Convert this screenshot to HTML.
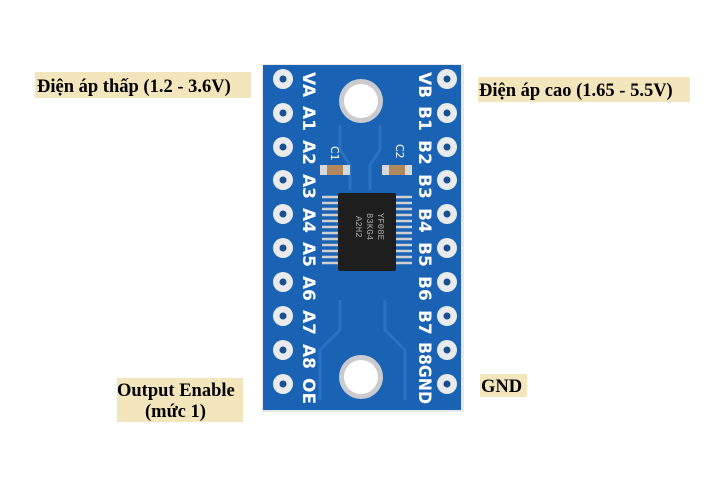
<!DOCTYPE html>
<html><head><meta charset="utf-8"><style>
body{margin:0;background:#fff;width:720px;height:480px;overflow:hidden}
</style></head><body>
<svg width="720" height="480" xmlns="http://www.w3.org/2000/svg" font-family="Liberation Serif, serif">
<rect x="0" y="0" width="720" height="480" fill="#fff"/>
<rect x="35" y="72" width="216" height="26" fill="#f3e6bd"/>
<text x="37" y="92" font-size="18.5" font-weight="bold">Điện áp thấp (1.2 - 3.6V)</text>
<rect x="478" y="77" width="212" height="25" fill="#f3e6bd"/>
<text x="479" y="96" font-size="18.5" font-weight="bold">Điện áp cao (1.65 - 5.5V)</text>
<rect x="480" y="374" width="47" height="23" fill="#f3e6bd"/>
<text x="481" y="392" font-size="18.5" font-weight="bold">GND</text>
<rect x="117" y="378" width="126" height="44" fill="#f3e6bd"/>
<text x="117" y="396" font-size="18.5" font-weight="bold">Output Enable</text>
<text x="145" y="417" font-size="18.5" font-weight="bold">(mức 1)</text>
<rect x="262" y="64" width="202" height="348" fill="#e6e8ea"/>
<rect x="263" y="65" width="198" height="345" fill="#1962b4"/>
<g stroke="#2a73c2" stroke-width="3" fill="none">
<path d="M340 125 L340 150 L350 165 L350 190"/>
<path d="M380 125 L380 150 L370 165 L370 190"/>
<path d="M340 300 L340 330 L320 350 L320 400"/>
<path d="M385 300 L385 330 L405 350 L405 400"/>
</g>
<g fill="#e8eaec">
<circle cx="283" cy="79" r="10"/><circle cx="447" cy="79" r="10"/>
<circle cx="283" cy="113" r="10"/><circle cx="447" cy="113" r="10"/>
<circle cx="283" cy="147" r="10"/><circle cx="447" cy="147" r="10"/>
<circle cx="283" cy="180" r="10"/><circle cx="447" cy="180" r="10"/>
<circle cx="283" cy="214" r="10"/><circle cx="447" cy="214" r="10"/>
<circle cx="283" cy="248" r="10"/><circle cx="447" cy="248" r="10"/>
<circle cx="283" cy="282" r="10"/><circle cx="447" cy="282" r="10"/>
<circle cx="283" cy="316" r="10"/><circle cx="447" cy="316" r="10"/>
<circle cx="283" cy="350" r="10"/><circle cx="447" cy="350" r="10"/>
<circle cx="283" cy="384" r="10"/><circle cx="447" cy="384" r="10"/>
</g>
<g fill="#1a4f8f">
<circle cx="283" cy="79" r="3.5"/><circle cx="447" cy="79" r="3.5"/>
<circle cx="283" cy="113" r="3.5"/><circle cx="447" cy="113" r="3.5"/>
<circle cx="283" cy="147" r="3.5"/><circle cx="447" cy="147" r="3.5"/>
<circle cx="283" cy="180" r="3.5"/><circle cx="447" cy="180" r="3.5"/>
<circle cx="283" cy="214" r="3.5"/><circle cx="447" cy="214" r="3.5"/>
<circle cx="283" cy="248" r="3.5"/><circle cx="447" cy="248" r="3.5"/>
<circle cx="283" cy="282" r="3.5"/><circle cx="447" cy="282" r="3.5"/>
<circle cx="283" cy="316" r="3.5"/><circle cx="447" cy="316" r="3.5"/>
<circle cx="283" cy="350" r="3.5"/><circle cx="447" cy="350" r="3.5"/>
<circle cx="283" cy="384" r="3.5"/><circle cx="447" cy="384" r="3.5"/>
</g>
<circle cx="361" cy="101" r="22" fill="#c9cbce"/><circle cx="361" cy="101" r="17" fill="#fff"/>
<circle cx="361" cy="377" r="22" fill="#c9cbce"/><circle cx="361" cy="377" r="17" fill="#fff"/>
<rect x="320" y="165" width="30" height="10" fill="#d8d8d8"/><rect x="327" y="165" width="16" height="10" fill="#b08a5e"/>
<rect x="382" y="165" width="30" height="10" fill="#d8d8d8"/><rect x="389" y="165" width="16" height="10" fill="#b08a5e"/>
<g stroke="#d0d0d0" stroke-width="2.5">
<path d="M322 197h18M322 203h18M322 209h18M322 215h18M322 221h18M322 227h18M322 233h18M322 239h18M322 245h18M322 251h18M322 257h18M322 263h18"/>
<path d="M394 197h18M394 203h18M394 209h18M394 215h18M394 221h18M394 227h18M394 233h18M394 239h18M394 245h18M394 251h18M394 257h18M394 263h18"/>
</g>
<rect x="338" y="193" width="58" height="78" rx="2" fill="#1e1e1e"/>
<g font-family="Liberation Mono, monospace" font-size="9" fill="#aaa">
<text transform="translate(378,213) rotate(90)">YF08E</text>
<text transform="translate(367,213) rotate(90)">83KG4</text>
<text transform="translate(356,216) rotate(90)">A2H2</text>
</g>
<g font-family="DejaVu Sans, sans-serif" font-size="17" fill="#fff" font-weight="bold">
<text transform="translate(303,72) rotate(90)">VA</text>
<text transform="translate(303,106) rotate(90)">A1</text>
<text transform="translate(303,140) rotate(90)">A2</text>
<text transform="translate(303,174) rotate(90)">A3</text>
<text transform="translate(303,208) rotate(90)">A4</text>
<text transform="translate(303,242) rotate(90)">A5</text>
<text transform="translate(303,276) rotate(90)">A6</text>
<text transform="translate(303,310) rotate(90)">A7</text>
<text transform="translate(303,344) rotate(90)">A8</text>
<text transform="translate(303,378) rotate(90)">OE</text>
<text transform="translate(419,72) rotate(90)">VB</text>
<text transform="translate(419,106) rotate(90)">B1</text>
<text transform="translate(419,140) rotate(90)">B2</text>
<text transform="translate(419,174) rotate(90)">B3</text>
<text transform="translate(419,208) rotate(90)">B4</text>
<text transform="translate(419,242) rotate(90)">B5</text>
<text transform="translate(419,276) rotate(90)">B6</text>
<text transform="translate(419,310) rotate(90)">B7</text>
<text transform="translate(419,342) rotate(90)" textLength="62" lengthAdjust="spacingAndGlyphs">B8GND</text>
</g>
<g font-family="DejaVu Sans, sans-serif" font-size="11" fill="#fff">
<text transform="translate(331,146) rotate(90)">C1</text>
<text transform="translate(396,144) rotate(90)">C2</text>
</g>
</svg>
</body></html>
